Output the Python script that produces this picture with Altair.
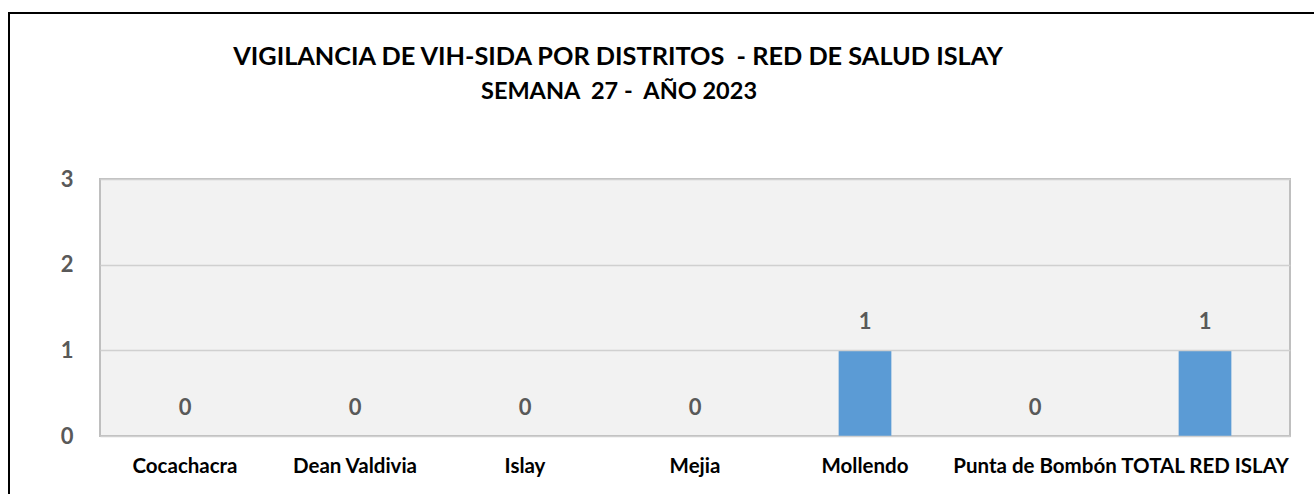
import altair as alt
import pandas as pd

distritos = ["Cocachacra", "Dean Valdivia", "Islay", "Mejia", "Mollendo",
             "Punta de Bombón", "TOTAL RED ISLAY"]
casos = [0, 0, 0, 0, 1, 0, 1]
y_ticks = [0, 1, 2, 3]
titulo = ["VIGILANCIA DE VIH-SIDA POR DISTRITOS \u00a0- RED DE SALUD ISLAY",
          "SEMANA \u00a027 - \u00a0AÑO 2023"]

df = pd.DataFrame({"distrito": distritos, "casos": casos})

FONT = "Lato"

x = alt.X("distrito:N", sort=distritos,
          scale=alt.Scale(paddingInner=0.69, paddingOuter=0.345),
          axis=alt.Axis(title=None, labelAngle=0, labelFont=FONT,
                        labelFontWeight="bold", labelFontSize=20.5,
                        labelColor="black", labelPadding=20, ticks=False,
                        domain=False, grid=False, labelOverlap=False))
y = alt.Y("casos:Q", scale=alt.Scale(domain=[0, 3]),
          axis=alt.Axis(title=None, values=y_ticks, format="d",
                        labelFont=FONT, labelFontSize=22,
                        labelFontWeight="bold", labelColor="#595959",
                        labelPadding=27, ticks=False, domain=False,
                        gridColor="#d0d0d0", gridWidth=1.5, zindex=1))

frame_df = pd.DataFrame({"k": [0]})

backdrop = alt.Chart(frame_df).mark_rect(
    color="#f2f2f2", stroke="#bfbfbf", strokeWidth=2
).encode(x=alt.value(0), x2=alt.value(1190), y=alt.value(0), y2=alt.value(257))

bars = alt.Chart(df).mark_bar(color="#5B9BD5").encode(x=x, y=y)

labels = alt.Chart(df).mark_text(
    dy=-28, font=FONT, fontWeight="bold", fontSize=22, color="#595959"
).encode(x=alt.X("distrito:N", sort=distritos), y="casos:Q", text="casos:Q")

left_line = alt.Chart(frame_df).mark_rule(color="black", strokeWidth=2).encode(
    x=alt.value(-91), y=alt.value(-166), y2=alt.value(330))
top_line = alt.Chart(frame_df).mark_rule(color="black", strokeWidth=2).encode(
    x=alt.value(-92), x2=alt.value(1230), y=alt.value(-166))

title_style = dict(font=FONT, fontWeight="bold", color="black",
                   align="center", baseline="middle")
title1 = alt.Chart(frame_df).mark_text(fontSize=25.3, **title_style).encode(
    x=alt.value(518), y=alt.value(-122), text=alt.value(titulo[0]))
title2 = alt.Chart(frame_df).mark_text(fontSize=23.5, **title_style).encode(
    x=alt.value(519), y=alt.value(-87), text=alt.value(titulo[1]))

chart = alt.layer(backdrop, bars, labels, left_line, top_line, title1,
                  title2).properties(
    width=1190, height=257,
    autosize=alt.AutoSizeParams(type="none"),
    padding={"left": 100, "top": 179, "right": 24, "bottom": 58},
).configure_view(
    stroke=None
).configure(background="white")

chart.save("out.html", embed_options={"renderer": "svg", "actions": False})
